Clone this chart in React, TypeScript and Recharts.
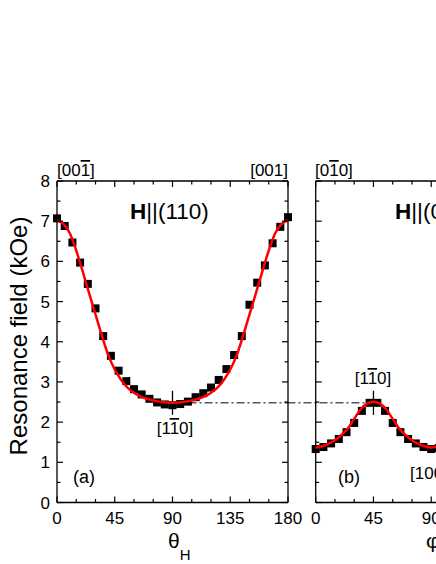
import React from "react";
import { ComposedChart, Scatter, XAxis, YAxis, ReferenceLine } from "recharts";

// panel (a): H || (110), angle theta_H
const anglesA = [0, 6, 12, 18, 24, 30, 36, 42, 48, 54, 60, 66, 72, 78, 84, 90, 96, 102, 108, 114, 120, 126, 132, 138, 144, 150, 156, 162, 168, 174, 180];
const fieldA = [7.07, 6.88, 6.47, 5.97, 5.44, 4.83, 4.14, 3.65, 3.28, 3.02, 2.82, 2.69, 2.58, 2.49, 2.44, 2.42, 2.45, 2.51, 2.62, 2.72, 2.86, 3.05, 3.32, 3.67, 4.14, 4.92, 5.47, 5.9, 6.45, 6.86, 7.1];
const fitAnglesA = [0, 5, 10, 15, 20, 25, 30, 35, 40, 45, 50, 55, 60, 65, 70, 75, 80, 85, 90, 95, 100, 105, 110, 115, 120, 125, 130, 135, 140, 145, 150, 155, 160, 165, 170, 175, 180];
const fitA = [7.02, 6.93, 6.7, 6.27, 5.75, 5.21, 4.68, 4.15, 3.66, 3.31, 3.05, 2.86, 2.73, 2.64, 2.58, 2.54, 2.51, 2.49, 2.48, 2.49, 2.51, 2.54, 2.58, 2.64, 2.73, 2.86, 3.05, 3.31, 3.66, 4.15, 4.68, 5.21, 5.75, 6.27, 6.7, 6.93, 7.02];

// panel (b): H || (001), angle phi_H
const anglesB = [0, 6, 12, 18, 24, 30, 36, 42, 48, 54, 60, 66, 72, 78, 84, 90, 96, 102];
const fieldB = [1.33, 1.38, 1.47, 1.58, 1.75, 1.98, 2.28, 2.48, 2.48, 2.28, 1.98, 1.75, 1.58, 1.47, 1.38, 1.33, 1.36, 1.42];
const fitAnglesB = [0, 5, 10, 15, 20, 25, 30, 35, 40, 45, 50, 55, 60, 65, 70, 75, 80, 85, 90, 95, 100, 105];
const fitB = [1.37, 1.4, 1.46, 1.55, 1.68, 1.84, 2.08, 2.32, 2.46, 2.51, 2.46, 2.32, 2.08, 1.84, 1.68, 1.55, 1.46, 1.4, 1.37, 1.4, 1.46, 1.55];

const xTicks = [0, 15, 30, 45, 60, 75, 90, 105, 120, 135, 150, 165, 180];
const yTicks = [0, 0.5, 1, 1.5, 2, 2.5, 3, 3.5, 4, 4.5, 5, 5.5, 6, 6.5, 7, 7.5, 8];
const minLevel = 2.48; // dash-dot line joining the two [1-10] points

const FONT = '"Liberation Sans", Arial, sans-serif';
const H = 564;
const TOP = 181;
const BOTTOM = 502.5;

const zip = (xs: number[], ys: number[]) => xs.map((x, i) => ({ x, y: ys[i] }));

const Square = (p: any) => <rect x={p.cx - 4} y={p.cy - 4} width={8} height={8} fill="#000" />;
const NoDot = () => <g />;

interface PanelProps {
  points: { x: number; y: number }[];
  fit: { x: number; y: number }[];
  width: number;
  marginLeft: number;
  axisWidth: number;
  showYLabels: boolean;
  dash: [number, number];
  crossAt: number;
}

function Panel({ points, fit, width, marginLeft, axisWidth, showYLabels, dash, crossAt }: PanelProps) {
  const plotLeft = marginLeft + axisWidth;
  const plotRight = plotLeft + 231;
  const marginRight = width - plotRight;

  const yTick = (p: any) => {
    const v = p.payload.value;
    const major = Number.isInteger(v);
    const len = major ? 6 : 3.5;
    return (
      <g>
        <line x1={plotLeft} x2={plotLeft + len} y1={p.y} y2={p.y} stroke="#000" strokeWidth={1.2} />
        <line x1={plotRight} x2={plotRight - len} y1={p.y} y2={p.y} stroke="#000" strokeWidth={1.2} />
        {showYLabels && major && (
          <text x={plotLeft - 7} y={p.y + 6} textAnchor="end" fontSize={17} fontFamily={FONT} fill="#000">{v}</text>
        )}
      </g>
    );
  };

  const xTick = (p: any) => {
    const v = p.payload.value;
    const major = v % 45 === 0;
    const len = major ? 6 : 3.5;
    return (
      <g>
        <line x1={p.x} x2={p.x} y1={BOTTOM} y2={BOTTOM - len} stroke="#000" strokeWidth={1.2} />
        <line x1={p.x} x2={p.x} y1={TOP} y2={TOP + len} stroke="#000" strokeWidth={1.2} />
        {major && (
          <text x={p.x} y={523.5} textAnchor="middle" fontSize={17} fontFamily={FONT} fill="#000">{v}</text>
        )}
      </g>
    );
  };

  return (
    <ComposedChart width={width} height={H} margin={{ top: TOP, right: marginRight, bottom: H - BOTTOM - 40, left: marginLeft }}>
      <XAxis type="number" dataKey="x" domain={[0, 180]} ticks={xTicks} interval={0} height={40} tickLine={false} axisLine={{ stroke: "#000", strokeWidth: 1.3 }} tick={xTick} />
      <YAxis type="number" dataKey="y" domain={[0, 8]} ticks={yTicks} interval={0} width={axisWidth} tickLine={false} axisLine={{ stroke: "#000", strokeWidth: 1.3 }} tick={yTick} />
      <ReferenceLine y={8} stroke="#000" strokeWidth={1.3} />
      <ReferenceLine x={180} stroke="#000" strokeWidth={1.3} />
      <ReferenceLine segment={[{ x: dash[0], y: minLevel }, { x: dash[1], y: minLevel }]} stroke="#000" strokeWidth={1} strokeDasharray="8 3 2 3" ifOverflow="visible" />
      <Scatter data={points} shape={Square} isAnimationActive={false} />
      <Scatter data={fit} shape={NoDot} line={{ stroke: "#ff0000", strokeWidth: 2.5, fill: "none" }} lineJointType="monotone" isAnimationActive={false} />
      <ReferenceLine segment={[{ x: crossAt, y: 2.18 }, { x: crossAt, y: 2.78 }]} stroke="#000" strokeWidth={1.3} ifOverflow="visible" />
    </ComposedChart>
  );
}

const Bar1 = ({ children }: { children: string }) => <tspan textDecoration="overline">{children}</tspan>;

export default function App() {
  return (
    <div style={{ position: "fixed", left: 0, top: 0, width: 436, height: H, overflow: "hidden", background: "#fff" }}>
      <div style={{ position: "absolute", left: 0, top: 0 }}>
        <Panel points={zip(anglesA, fieldA)} fit={zip(fitAnglesA, fitA)} width={320} marginLeft={12} axisWidth={45} showYLabels dash={[90, 180]} crossAt={90} />
      </div>
      <div style={{ position: "absolute", left: 288, top: 0 }}>
        <Panel points={zip(anglesB, fieldB)} fit={zip(fitAnglesB, fitB)} width={300} marginLeft={0} axisWidth={27.7} showYLabels={false} dash={[-22, 45]} crossAt={45} />
      </div>
      <svg width={436} height={H} style={{ position: "absolute", left: 0, top: 0, pointerEvents: "none" }} fontFamily={FONT} fill="#000">
        <text transform="translate(27,336) rotate(-90)" textAnchor="middle" fontSize={24}>Resonance field (kOe)</text>
        <text x={168} y={548} fontSize={21}>θ<tspan fontSize={15} dy={12}>H</tspan></text>
        <text x={426} y={548} fontSize={21}>φ<tspan fontSize={15} dy={12}>H</tspan></text>

        <text x={57} y={176} fontSize={17}>[00<Bar1>1</Bar1>]</text>
        <text x={288} y={176} fontSize={17} textAnchor="end">[001]</text>
        <text x={315} y={176} fontSize={17}>[0<Bar1>1</Bar1>0]</text>

        <text x={130} y={219} fontSize={22.5}><tspan fontWeight="bold">H</tspan>||(110)</text>
        <text x={395} y={219} fontSize={22.5}><tspan fontWeight="bold">H</tspan>||(001)</text>

        <text x={73} y={483} fontSize={18}>(a)</text>
        <text x={338} y={483} fontSize={18}>(b)</text>
        <text x={175} y={434} fontSize={17} textAnchor="middle">[1<Bar1>1</Bar1>0]</text>
        <text x={373} y={384} fontSize={17} textAnchor="middle">[1<Bar1>1</Bar1>0]</text>
        <text x={410} y={479} fontSize={17}>[100]</text>
      </svg>
    </div>
  );
}
